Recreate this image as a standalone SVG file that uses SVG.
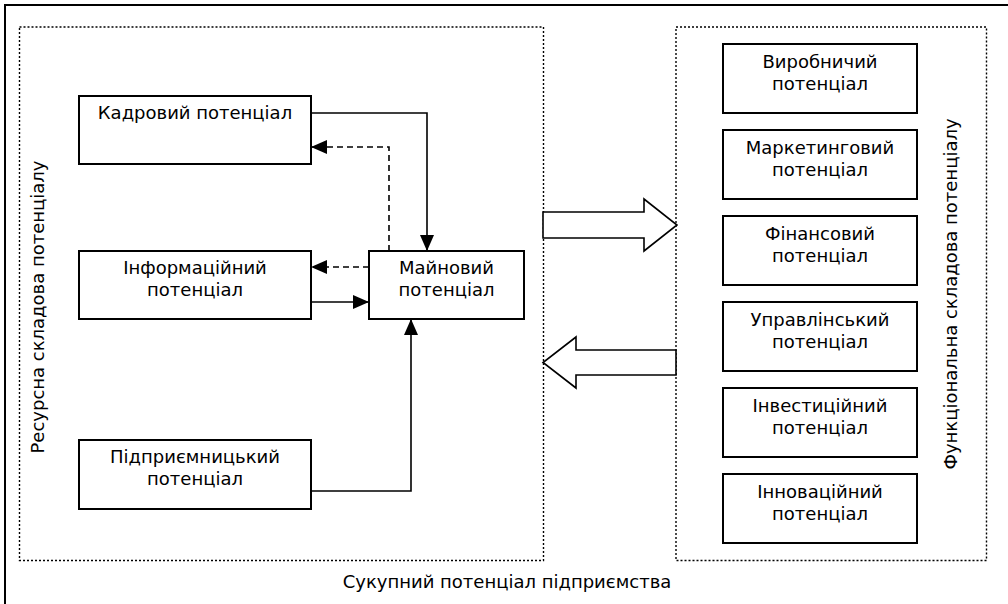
<svg xmlns="http://www.w3.org/2000/svg" width="1008" height="604" viewBox="0 0 1008 604">
<style>
  text { font-family: "DejaVu Sans", Verdana, sans-serif; font-size: 18px; fill: #000; }
  .box { fill: #fff; stroke: #000; stroke-width: 2; }
  .dot { fill: none; stroke: #000; stroke-width: 1.4; stroke-dasharray: 2 2; }
  .ln { fill: none; stroke: #000; stroke-width: 1.6; }
  .dash { fill: none; stroke: #000; stroke-width: 1.6; stroke-dasharray: 6 4; }
  .big { fill: #fff; stroke: #000; stroke-width: 1.6; stroke-linejoin: miter; }
  .c { text-anchor: middle; }
</style>
<defs>
  <marker id="ah" viewBox="0 0 16 14" refX="16" refY="7" markerWidth="16" markerHeight="14" markerUnits="userSpaceOnUse" orient="auto">
    <path d="M0,0 L16,7 L0,14 Z" fill="#000"/>
  </marker>
</defs>
<rect width="1008" height="604" fill="#fff"/>
<g id="frame">
  <path d="M5,604 L5,5 L1008,5" fill="none" stroke="#000" stroke-width="2"/>
  <text class="c" x="507" y="588">Сукупний потенціал підприємства</text>
</g>
<g id="resource-group">
  <rect class="dot" x="19.5" y="27" width="524" height="533.5"/>
  <text class="c" transform="translate(43.5,307) rotate(-90)">Ресурсна складова потенціалу</text>
</g>
<g id="functional-group">
  <rect class="dot" x="676" y="27" width="310.5" height="533.5"/>
  <text class="c" transform="translate(957,294) rotate(-90)">Функціональна складова потенціалу</text>
</g>
<g id="kadrovyi">
  <rect class="box" x="79" y="96" width="232" height="68"/>
  <text class="c" x="195" y="119">Кадровий потенціал</text>
</g>
<g id="informatsiinyi">
  <rect class="box" x="79" y="251" width="232" height="68"/>
  <text class="c" x="195" y="274">Інформаційний</text>
  <text class="c" x="195" y="296">потенціал</text>
</g>
<g id="mainovyi">
  <rect class="box" x="369" y="251" width="155" height="68"/>
  <text class="c" x="446.5" y="274">Майновий</text>
  <text class="c" x="446.5" y="296">потенціал</text>
</g>
<g id="pidpryiemnytskyi">
  <rect class="box" x="79" y="440" width="232" height="69"/>
  <text class="c" x="195" y="463">Підприємницький</text>
  <text class="c" x="195" y="485">потенціал</text>
</g>
<g id="vyrobnychyi">
  <rect class="box" x="723" y="44" width="194" height="69"/>
  <text class="c" x="820" y="68">Виробничий</text>
  <text class="c" x="820" y="90">потенціал</text>
</g>
<g id="marketynhovyi">
  <rect class="box" x="723" y="130" width="194" height="69"/>
  <text class="c" x="820" y="154">Маркетинговий</text>
  <text class="c" x="820" y="176">потенціал</text>
</g>
<g id="finansovyi">
  <rect class="box" x="723" y="216" width="194" height="69"/>
  <text class="c" x="820" y="240">Фінансовий</text>
  <text class="c" x="820" y="262">потенціал</text>
</g>
<g id="upravlinskyi">
  <rect class="box" x="723" y="302" width="194" height="69"/>
  <text class="c" x="820" y="326">Управлінський</text>
  <text class="c" x="820" y="348">потенціал</text>
</g>
<g id="investytsiinyi">
  <rect class="box" x="723" y="388" width="194" height="69"/>
  <text class="c" x="820" y="412">Інвестиційний</text>
  <text class="c" x="820" y="434">потенціал</text>
</g>
<g id="innovatsiinyi">
  <rect class="box" x="723" y="474" width="194" height="69"/>
  <text class="c" x="820" y="498">Інноваційний</text>
  <text class="c" x="820" y="520">потенціал</text>
</g>
<g id="connectors">
  <path class="ln" d="M311,113 L427,113 L427,251" marker-end="url(#ah)"/>
  <path class="dash" d="M389,251 L389,147 L311,147" marker-end="url(#ah)"/>
  <path class="dash" d="M369,267 L311,267" marker-end="url(#ah)"/>
  <path class="ln" d="M311,302 L369,302" marker-end="url(#ah)"/>
  <path class="ln" d="M311,491 L411,491 L411,319" marker-end="url(#ah)"/>
  <polygon class="big" points="543,212 644,212 644,199 677,225 644,251 644,238 543,238"/>
  <polygon class="big" points="676,350 576,350 576,337 543,362.5 576,388 576,375 676,375"/>
</g>
</svg>
